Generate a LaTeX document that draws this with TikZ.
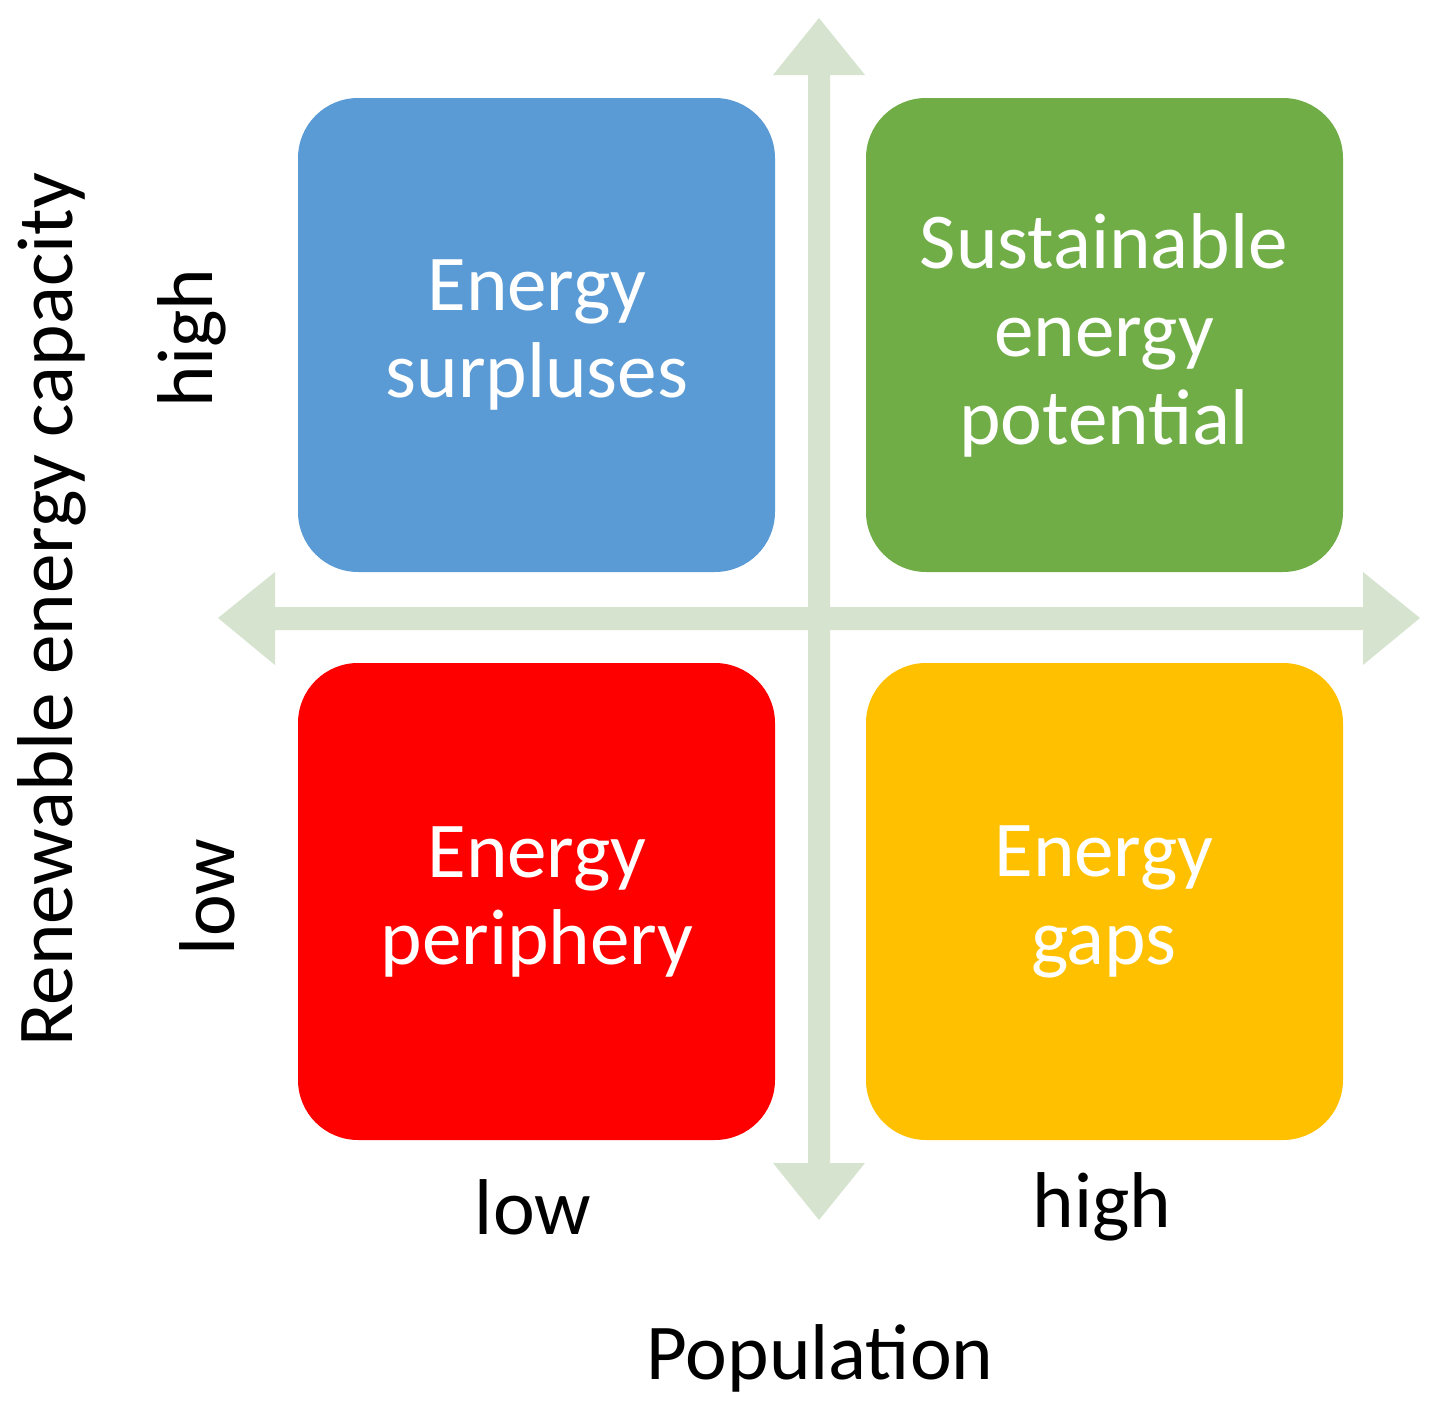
\documentclass[tikz,border=0pt]{standalone}
\usepackage{fontspec}
\setmainfont{Carlito}
\begin{document}
\begin{tikzpicture}[x=0.01cm,y=-0.01cm,
  quad/.style={rounded corners=62\pgflinewidth, draw=none},
  qtext/.style={text=white, align=center, font=\fontsize{22.5}{25}\selectfont},
  lab/.style={font=\fontsize{22.5}{25}\selectfont, text=black}]
\useasboundingbox (0,0) rectangle (1441,1421);
\definecolor{axc}{HTML}{D5E3CF}
\definecolor{qblue}{HTML}{5B9BD5}
\definecolor{qgreen}{HTML}{70AD47}
\definecolor{qred}{HTML}{FF0000}
\definecolor{qyellow}{HTML}{FFC000}
% axes
\fill[axc] (808,75) -- (773,75) -- (819,18) -- (865,75) -- (830,75) -- (830,1163) -- (865,1163) -- (819,1220) -- (773,1163) -- (808,1163) -- cycle;
\fill[axc] (275,607) -- (275,572) -- (218,618) -- (275,665) -- (275,630) -- (1363,630) -- (1363,665) -- (1420,618) -- (1363,572) -- (1363,607) -- cycle;
% quadrants
\fill[qblue, rounded corners=0.6cm] (298,98) rectangle (775,572);
\fill[qgreen, rounded corners=0.6cm] (866,98) rectangle (1343,572);
\fill[qred, rounded corners=0.6cm] (298,663) rectangle (775,1140);
\fill[qyellow, rounded corners=0.6cm] (866,663) rectangle (1343,1140);
\node[qtext] (tl) at (537,335) {Energy\\surpluses};
\node[qtext] (tr) at (1104,335) {Sustainable\\energy\\potential};
\node[qtext] (bl) at (537,902) {Energy\\periphery};
\node[qtext] (br) at (1104,902) {Energy\\gaps};
% labels
\node[lab] (pop) at (820,1358) {Population};
\node[lab] (xlow) at (533,1207) {low};
\node[lab] (xhigh) at (1102,1207) {high};
\node[lab, rotate=90] (yl) at (52,610) {Renewable energy capacity};
\node[lab, rotate=90] (yhigh) at (192,338) {high};
\node[lab, rotate=90] (ylow) at (207,897) {low};
\end{tikzpicture}
\end{document}
